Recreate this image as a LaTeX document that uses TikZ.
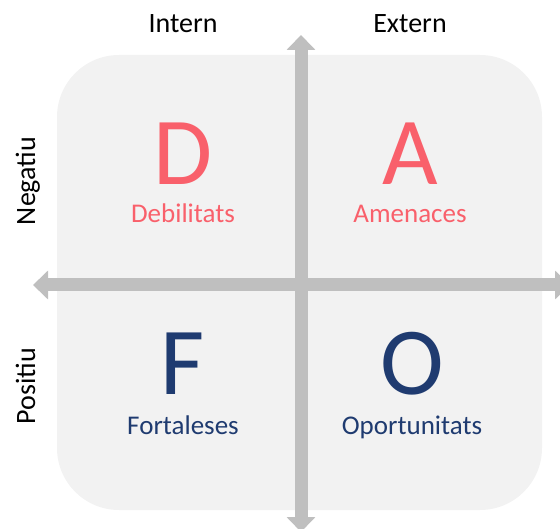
\documentclass[tikz,border=0pt]{standalone}
\usepackage{fontspec}
\setmainfont{Carlito}
\usetikzlibrary{arrows.meta}
\definecolor{bgq}{HTML}{F2F2F2}
\definecolor{axisg}{HTML}{BFBFBF}
\definecolor{redq}{HTML}{F9606B}
\definecolor{navyq}{HTML}{1F3B70}
\tikzset{
  axis/.style={draw=axisg, line width=13pt, {Triangle[width=28pt,length=15pt]}-{Triangle[width=28pt,length=15pt]}},
  head/.style={font=\fontsize{28}{30}\selectfont, anchor=base, text=black, inner sep=0pt},
  side/.style={font=\fontsize{28}{30}\selectfont, anchor=base, rotate=90, text=black, inner sep=0pt},
  big/.style={font=\fontsize{96}{100}\selectfont, anchor=base, inner sep=0pt},
  lbl/.style={font=\fontsize{27}{30}\selectfont, anchor=base, inner sep=0pt}
}
\begin{document}
\begin{tikzpicture}[x=1pt,y=-1pt]
\useasboundingbox (0,0) rectangle (560,529);
\clip (0,0) rectangle (560,529);
\fill[bgq, rounded corners=62pt] (57,55) rectangle (542,510);
\coordinate (top) at (301,35);
\coordinate (bot) at (301,532);
\coordinate (lft) at (33,285);
\coordinate (rgt) at (570,285);
\draw[axis] (lft) -- (rgt);
\draw[axis] (bot) -- (top);
\node[head] (intern) at (183,33) {Intern};
\node[head] (extern) at (410,33) {Extern};
\node[side] (neg) at (35,181) {Negatiu};
\node[side] (pos) at (35,386) {Positiu};
\node[big, text=redq] (D) at (183,185) {D};
\node[lbl, text=redq] (Dl) at (183,223) {Debilitats};
\node[big, text=redq] (A) at (410,185) {A};
\node[lbl, text=redq] (Al) at (410,223) {Amenaces};
\node[big, text=navyq] (F) at (183,395) {F};
\node[lbl, text=navyq] (Fl) at (183,435) {Fortaleses};
\node[big, text=navyq] (O) at (412,395) {O};
\node[lbl, text=navyq] (Ol) at (412,435) {Oportunitats};
\end{tikzpicture}
\end{document}
